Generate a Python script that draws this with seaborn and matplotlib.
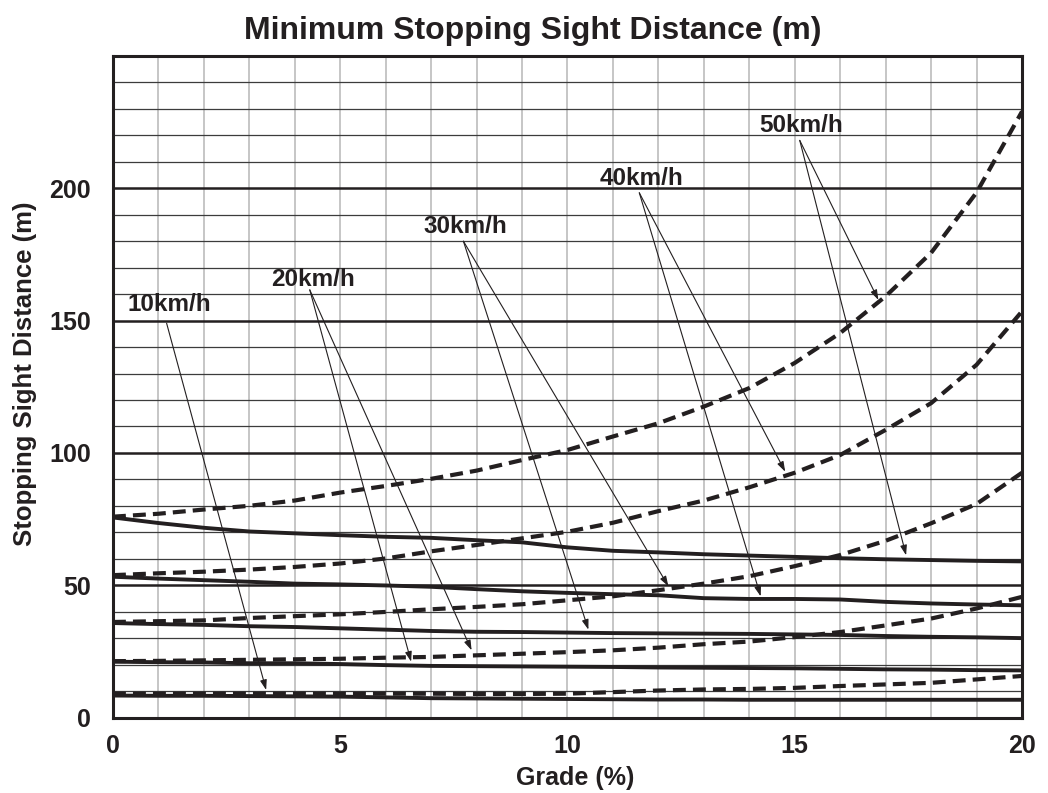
import numpy as np
import pandas as pd
import matplotlib
matplotlib.use("Agg")
import matplotlib.pyplot as plt
import seaborn as sns

# ---------------- data ----------------
grades = list(range(0, 21))
speeds = ["10km/h", "20km/h", "30km/h", "40km/h", "50km/h"]

# upgrade (solid lines)
up_10 = [8.3, 8.2, 8.2, 8.1, 8.0, 7.9, 7.6, 7.3, 7.2, 7.1, 7.0, 6.9, 6.8, 6.8, 6.7, 6.7, 6.7, 6.7, 6.7, 6.7, 6.7]
up_20 = [21.1, 20.9, 20.8, 20.5, 20.5, 20.2, 19.8, 19.5, 19.4, 19.3, 19.2, 19.1, 18.9, 18.8, 18.7, 18.6, 18.4, 18.2, 18.1, 17.9, 17.8]
up_30 = [35.7, 35.3, 35.0, 34.5, 34.2, 33.7, 33.2, 32.7, 32.4, 32.3, 32.1, 31.9, 31.8, 31.7, 31.6, 31.4, 31.2, 30.8, 30.5, 30.3, 30.0]
up_40 = [53.2, 52.5, 51.9, 51.3, 50.6, 50.3, 49.9, 49.4, 48.5, 47.7, 47.1, 46.6, 46.2, 45.1, 44.8, 44.8, 44.6, 43.7, 43.1, 42.7, 42.4]
up_50 = [75.6, 73.5, 71.7, 70.3, 69.6, 68.9, 68.3, 67.9, 67.0, 66.2, 64.3, 63.0, 62.4, 61.7, 61.2, 60.7, 60.2, 59.8, 59.5, 59.2, 59.0]

# downgrade (dashed lines)
down_10 = [9.0, 9.0, 9.0, 9.0, 9.0, 9.0, 9.0, 9.0, 8.9, 8.9, 9.0, 9.6, 10.2, 10.6, 10.8, 11.2, 11.9, 12.5, 13.1, 14.4, 15.7]
down_20 = [21.3, 21.4, 21.6, 21.8, 22.0, 22.2, 22.6, 22.9, 23.5, 24.1, 24.7, 25.4, 26.4, 27.7, 28.7, 30.4, 32.3, 34.8, 37.4, 41.2, 45.6]
down_30 = [36.1, 36.4, 36.7, 37.6, 38.3, 39.0, 39.9, 40.9, 41.8, 42.8, 44.3, 45.8, 48.1, 50.6, 53.4, 57.2, 61.4, 66.8, 73.4, 80.7, 92.5]
down_40 = [53.8, 54.5, 55.1, 55.9, 56.9, 58.2, 60.1, 62.8, 65.2, 67.7, 70.2, 73.6, 78.0, 82.0, 87.0, 92.5, 99.2, 108.7, 118.8, 133.3, 153.5]
down_50 = [75.9, 77.0, 78.6, 80.0, 82.0, 85.0, 87.5, 90.2, 93.3, 97.3, 101.1, 106.2, 111.2, 117.5, 124.5, 134.0, 145.3, 159.2, 175.6, 198.4, 229.0]

x_ticks = [0, 5, 10, 15, 20]
y_ticks = [0, 50, 100, 150, 200]
y_minor_grid = [10, 20, 30, 40, 60, 70, 80, 90, 110, 120, 130, 140, 160, 170, 180, 190, 210, 220, 230, 240]
x_minor_grid = list(range(1, 20))

title = "Minimum Stopping Sight Distance (m)"
x_label = "Grade (%)"
y_label = "Stopping Sight Distance (m)"

# annotation placement (label centre, arrow start, arrow targets) in data coords
label_pos = {
    "10km/h": (1.24, 155.9),
    "20km/h": (4.40, 165.4),
    "30km/h": (7.76, 185.5),
    "40km/h": (11.62, 203.8),
    "50km/h": (15.14, 223.9),
}
arrow_start = {
    "10km/h": (1.18, 149.0),
    "20km/h": (4.33, 161.6),
    "30km/h": (7.71, 180.0),
    "40km/h": (11.58, 198.3),
    "50km/h": (15.11, 218.1),
}
arrow_targets = {
    "10km/h": [(3.37, 10.4)],
    "20km/h": [(6.56, 21.1), (7.89, 25.4)],
    "30km/h": [(10.46, 33.2), (12.22, 49.6)],
    "40km/h": [(14.25, 45.8), (14.79, 92.9)],
    "50km/h": [(16.84, 157.8), (17.45, 61.3)],
}

# ---------------- frame ----------------
up = [up_10, up_20, up_30, up_40, up_50]
down = [down_10, down_20, down_30, down_40, down_50]
rows = []
for sp, u, d in zip(speeds, up, down):
    for g, a, b in zip(grades, u, d):
        rows.append({"grade": g, "distance": a, "speed": sp, "direction": "up"})
        rows.append({"grade": g, "distance": b, "speed": sp, "direction": "down"})
df = pd.DataFrame(rows)

# ---------------- style ----------------
sns.set_style("white")
plt.rcParams["font.family"] = ["Liberation Sans", "DejaVu Sans"]
ink = "#231f20"

fig = plt.figure(figsize=(10.48, 7.93), dpi=100)
ax = fig.add_axes([0.1078, 0.0952, 0.9752 - 0.1078, 0.9294 - 0.0952])

for xv in x_minor_grid:
    ax.axvline(xv, color="#bcbcbc", lw=1.2, zorder=1)
for yv in y_minor_grid:
    ax.axhline(yv, color="#3c3c3c", lw=0.9, zorder=2)
for yv in y_ticks[1:]:
    ax.axhline(yv, color=ink, lw=1.8, zorder=2)

sns.lineplot(data=df[df["direction"] == "up"], x="grade", y="distance",
             units="speed", estimator=None, color=ink, lw=2.8,
             legend=False, ax=ax, zorder=4)
sns.lineplot(data=df[df["direction"] == "down"], x="grade", y="distance",
             units="speed", estimator=None, color=ink, lw=3.0,
             linestyle=(0, (3.1, 1.7)), legend=False, ax=ax, zorder=5)

for sp in speeds:
    lx, ly = label_pos[sp]
    ax.text(lx, ly, sp, ha="center", va="center", fontsize=17.5,
            fontweight="bold", color=ink, zorder=6)
    for tgt in arrow_targets[sp]:
        ax.annotate("", xy=tgt, xytext=arrow_start[sp],
                    arrowprops=dict(arrowstyle="-|>,head_length=0.6,head_width=0.2",
                                    lw=0.8, color=ink, shrinkA=0, shrinkB=0,
                                    mutation_scale=10), zorder=6)

ax.set_xlim(0, 20)
ax.set_ylim(0, 250)
ax.set_xticks(x_ticks)
ax.set_xticklabels([str(v) for v in x_ticks])
ax.set_yticks(y_ticks)
ax.set_yticklabels([str(v) for v in y_ticks])
ax.tick_params(axis="both", length=0, labelsize=18, colors=ink)
ax.tick_params(axis="x", pad=12)
ax.tick_params(axis="y", pad=16)
for lab in ax.get_xticklabels() + ax.get_yticklabels():
    lab.set_fontweight("bold")

for s in ax.spines.values():
    s.set_color(ink)
    s.set_linewidth(2.2)
    s.set_zorder(7)

ax.set_xlabel(x_label, fontsize=18, fontweight="bold", color=ink)
ax.set_ylabel(y_label, fontsize=18.5, fontweight="bold", color=ink)
ax.xaxis.set_label_coords(0.509, -0.074)
ax.yaxis.set_label_coords(-0.084, 0.52)

fig.text(0.508, 1 - 31 / 793, title, ha="center", va="center",
         fontsize=23, fontweight="bold", color=ink)

fig.savefig("out.png", dpi=100)
